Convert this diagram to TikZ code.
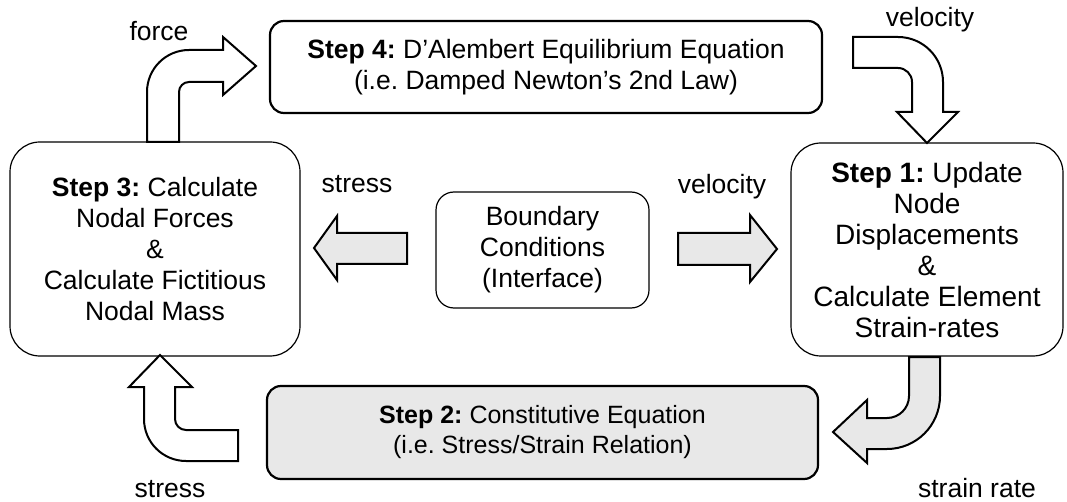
\documentclass[tikz,border=0pt]{standalone}
\usepackage{fontspec}
\setmainfont{Liberation Sans}
\frenchspacing
\begin{document}
\frenchspacing
\begin{tikzpicture}[x=1pt,y=1pt,
  txt/.style={font=\fontsize{26.5}{31}\selectfont, align=center, inner sep=0pt},
  bigbox/.style={draw, line width=2.2pt, rounded corners=14pt, txt},
  softbox/.style={draw, line width=1.2pt, rounded corners=30pt, txt},
  blockarrow/.style={draw, line width=2pt, line join=miter, fill=white},
  grayarrow/.style={blockarrow, fill=black!9},
  lbl/.style={font=\fontsize{26.5}{31}\selectfont, inner sep=0pt, anchor=base}]
\useasboundingbox[fill=white] (0,0) rectangle (1067,-502);

% boxes
\node[bigbox, minimum width=552pt, minimum height=92pt] (s4) at (546,-67)
  {\textbf{Step 4:} D’Alembert Equilibrium Equation\\(i.e. Damped Newton’s 2nd Law)};
\node[softbox, minimum width=290pt, minimum height=214pt] (s3) at (155,-249)
  {\textbf{Step 3:} Calculate\\Nodal Forces\\\&\\Calculate Fictitious\\Nodal Mass};
\node[softbox, font=\fontsize{28}{31}\selectfont, minimum width=272pt, minimum height=213pt] (s1) at (927,-249.5)
  {\textbf{Step 1:} Update\\Node\\Displacements\\\&\\Calculate Element\\Strain-rates};
\node[softbox, rounded corners=18pt, minimum width=213pt, minimum height=116pt] (bc) at (542.5,-250)
  {Boundary\\Conditions\\(Interface)};
\node[bigbox, fill=black!9, font=\fontsize{25}{30}\selectfont, minimum width=551pt, minimum height=93pt] (s2) at (542.5,-432.5)
  {\textbf{Step 2:} Constitutive Equation\\(i.e. Stress/Strain Relation)};

% force arrow (Step 3 -> Step 4)
\draw[blockarrow] (147,-142) -- (147,-92) arc(180:90:42) -- (223,-50) -- (223,-37)
  -- (256,-66) -- (223,-95) -- (223,-82) -- (189,-82) arc(90:180:10) -- (179,-142) -- cycle;
% velocity arrow (Step 4 -> Step 1)
\draw[blockarrow] (853,-37) -- (898,-37) arc(90:0:45) -- (943,-112) -- (958,-112)
  -- (927,-143) -- (897,-112) -- (912,-112) -- (912,-82) arc(0:90:14) -- (853,-68) -- cycle;
% strain rate arrow (Step 1 -> Step 2)
\draw[grayarrow] (909,-357) -- (940,-357) -- (940,-396) arc(0:-90:53) -- (867,-449)
  -- (867,-463) -- (833,-432) -- (867,-400) -- (867,-418) -- (887,-418) arc(-90:0:22) -- cycle;
% stress arrow (Step 2 -> Step 3)
\draw[blockarrow] (238,-430) -- (186,-430) arc(-90:-180:11) -- (175,-387) -- (192,-387)
  -- (160,-355) -- (129,-387) -- (144,-387) -- (144,-419) arc(180:270:42) -- (238,-461) -- cycle;
% boundary arrows
\draw[grayarrow] (407,-233) -- (337,-233) -- (337,-216) -- (314,-248) -- (337,-280)
  -- (337,-264) -- (407,-264) -- cycle;
\draw[grayarrow] (678,-233) -- (750,-233) -- (750,-215) -- (777,-249) -- (750,-282)
  -- (750,-265) -- (678,-265) -- cycle;

% labels
\node[lbl] (lforce) at (159,-41) {force};
\node[lbl] (lvel1) at (930,-27) {velocity};
\node[lbl] (lstress1) at (357,-193) {stress};
\node[lbl] (lvel2) at (722,-194) {velocity};
\node[lbl] (lstress2) at (170,-497) {stress};
\node[lbl] (lstrain) at (977,-497) {strain rate};
\end{tikzpicture}
\end{document}
